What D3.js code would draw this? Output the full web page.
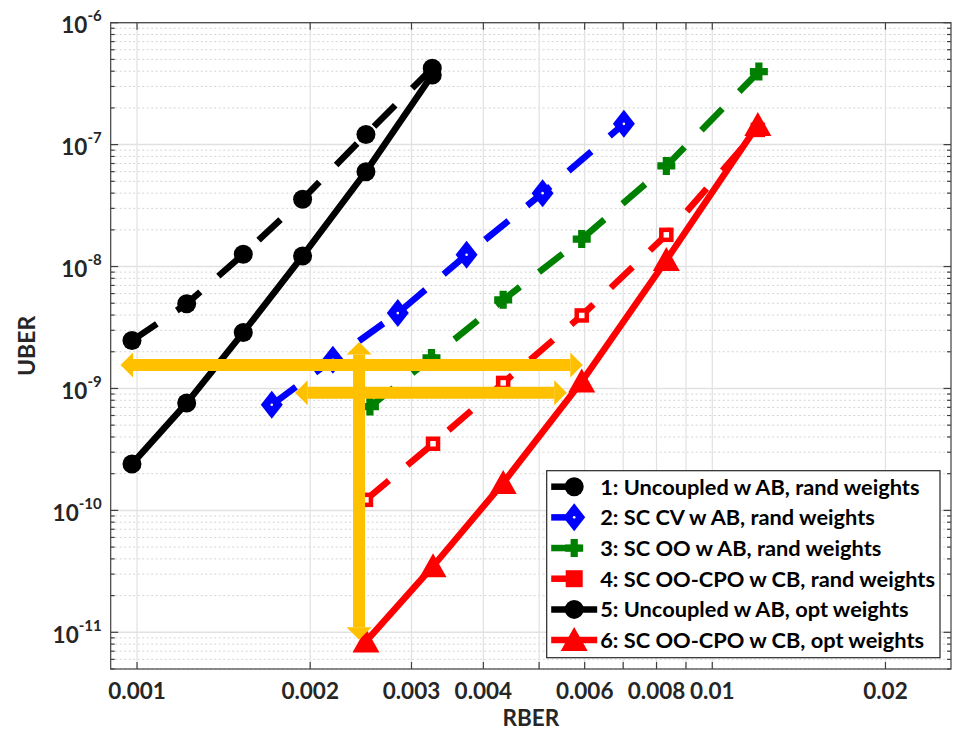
<!DOCTYPE html>
<html>
<head>
<meta charset="utf-8">
<script src="https://cdn.jsdelivr.net/npm/d3@7"></script>
<style>
  body { margin: 0; background: #fff; }
  text { font-family: Lato, "Open Sans", sans-serif; font-weight: bold; fill: #262626; }
</style>
</head>
<body>
<div id="chart"></div>
<script>
// ---------------------------//
//           DATA             //
// ---------------------------//

// RBER values (x) for each curve
const rberUncoupled = [0.00098, 0.00122, 0.00153, 0.00194, 0.0025, 0.00326];
const rberCV        = [0.001715, 0.00219, 0.00284, 0.00374, 0.00507, 0.00702];
const rberOO        = [0.00254, 0.00325, 0.00433, 0.00593, 0.00832, 0.01205];
const rberCPO       = [0.0025, 0.00327, 0.00433, 0.00593, 0.00832, 0.012];

// UBER values (y)
const uber1 = [2.47e-9, 4.95e-9, 1.26e-8, 3.57e-8, 1.21e-7, 4.23e-7];
const uber2 = [7.35e-10, 1.72e-9, 4.15e-9, 1.25e-8, 4.0e-8, 1.48e-7];
const uber3 = [7.1e-10, 1.78e-9, 5.33e-9, 1.68e-8, 6.69e-8, 3.97e-7];
const uber4 = [1.22e-10, 3.52e-10, 1.11e-9, 3.97e-9, 1.82e-8, 1.32e-7];
const uber5 = [2.40e-10, 7.6e-10, 2.88e-9, 1.22e-8, 6.0e-8, 3.73e-7];
const uber6 = [8.4e-12, 3.48e-11, 1.68e-10, 1.14e-9, 1.13e-8, 1.45e-7];

const seriesNames = [
    "1: Uncoupled w AB, rand weights",
    "2: SC CV w AB, rand weights",
    "3: SC OO w AB, rand weights",
    "4: SC OO-CPO w CB, rand weights",
    "5: Uncoupled w AB, opt weights",
    "6: SC OO-CPO w CB, opt weights"
];

// axis ticks
const xTicks      = [0.001, 0.002, 0.003, 0.004, 0.005, 0.006, 0.007, 0.008, 0.009, 0.01, 0.02];
const xTickLabels = ["0.001", "0.002", "0.003", "0.004", "", "0.006", "", "0.008", "", "0.01", "0.02"];
const yDecades    = [1e-11, 1e-10, 1e-9, 1e-8, 1e-7, 1e-6];
const yExponents  = ["-11", "-10", "-9", "-8", "-7", "-6"];

// yellow double arrows [rber1, uber1, rber2, uber2]
const arrowUpper    = [0.000936, 1.56e-9, 0.005955, 1.56e-9];
const arrowLower    = [0.001883, 9.2e-10, 0.005585, 9.2e-10];
const arrowVertical = [0.002432, 2.41e-9, 0.002432, 8.7e-12];

// ---------------------------//
//       SET  CANVAS          //
// ---------------------------//
const W = 955, H = 734;
const margin = {top: 22.7, right: 4, bottom: 65, left: 110.7},
    width = W - margin.left - margin.right,
    height = H - margin.top - margin.bottom;

const svg = d3.select("#chart")
    .append("svg")
    .attr("width", W)
    .attr("height", H)
    .append("g")
    .attr("transform", `translate(${margin.left},${margin.top})`);

// ---------------------------//
//       AXIS  AND SCALE      //
// ---------------------------//
const x = d3.scaleLog().domain([0.0009, 0.026]).range([0, width]);
const y = d3.scaleLog().domain([5e-12, 1e-6]).range([height, 0]);

// minor y values 2..9 per decade inside the domain
const yMinor = [];
[1e-12, 1e-11, 1e-10, 1e-9, 1e-8, 1e-7].forEach(d => {
    for (let k = 2; k <= 9; k++) {
        const v = d * k;
        if (v >= 5e-12 && v < 1e-6) yMinor.push(v);
    }
});

// grid
const grid = svg.append("g");
grid.selectAll(".ymin").data(yMinor).enter().append("line")
    .attr("x1", 0).attr("x2", width)
    .attr("y1", d => y(d)).attr("y2", d => y(d))
    .attr("stroke", "#d4d4d4").attr("stroke-width", 1)
    .attr("stroke-dasharray", "2,2.5");
grid.selectAll(".xg").data(xTicks).enter().append("line")
    .attr("x1", d => x(d)).attr("x2", d => x(d))
    .attr("y1", 0).attr("y2", height)
    .attr("stroke", "#e1e1e1").attr("stroke-width", 1.2);
grid.selectAll(".yg").data(yDecades).enter().append("line")
    .attr("x1", 0).attr("x2", width)
    .attr("y1", d => y(d)).attr("y2", d => y(d))
    .attr("stroke", "#e1e1e1").attr("stroke-width", 1.5);

// box + ticks
const axisColor = "#404040";
svg.append("rect")
    .attr("width", width).attr("height", height)
    .attr("fill", "none").attr("stroke", axisColor).attr("stroke-width", 1.2);

const ticks = svg.append("g").attr("stroke", axisColor).attr("stroke-width", 1.2);
xTicks.forEach(v => {
    ticks.append("line").attr("x1", x(v)).attr("x2", x(v)).attr("y1", height).attr("y2", height - 7);
    ticks.append("line").attr("x1", x(v)).attr("x2", x(v)).attr("y1", 0).attr("y2", 7);
});
yDecades.forEach(v => {
    ticks.append("line").attr("x1", 0).attr("x2", 7.5).attr("y1", y(v)).attr("y2", y(v));
    ticks.append("line").attr("x1", width).attr("x2", width - 7.5).attr("y1", y(v)).attr("y2", y(v));
});
yMinor.forEach(v => {
    ticks.append("line").attr("x1", 0).attr("x2", 4).attr("y1", y(v)).attr("y2", y(v));
    ticks.append("line").attr("x1", width).attr("x2", width - 4).attr("y1", y(v)).attr("y2", y(v));
});

// x tick labels
svg.selectAll(".xlab").data(xTicks).enter().append("text")
    .attr("x", d => x(d))
    .attr("y", height + 30)
    .attr("text-anchor", "middle")
    .style("font-size", "22.5px")
    .text((d, i) => xTickLabels[i]);

// y tick labels 10^n
yDecades.forEach((v, i) => {
    const t = svg.append("text")
        .attr("x", -9)
        .attr("y", y(v) + 10.5)
        .attr("text-anchor", "end")
        .style("font-size", "22.5px");
    t.append("tspan").text("10");
    t.append("tspan").attr("dy", -12).style("font-size", "15px").text(yExponents[i]);
});

// axis titles
svg.append("text")
    .attr("x", width / 2)
    .attr("y", height + 57.5)
    .attr("text-anchor", "middle")
    .style("font-size", "22.5px")
    .text("RBER");

svg.append("text")
    .attr("transform", `translate(${34.5 - margin.left},${height / 2}) rotate(-90)`)
    .attr("text-anchor", "middle")
    .style("font-size", "23px")
    .text("UBER");

// ---------------------------//
//      MARKERS & LINES       //
// ---------------------------//
function drawMarker(g, type, color, cx, cy) {
    if (type === "circle") {
        g.append("circle").attr("cx", cx).attr("cy", cy).attr("r", 9.5).attr("fill", color);
    } else if (type === "diamond") {
        g.append("path").attr("d", `M${cx},${cy - 14}L${cx + 11},${cy}L${cx},${cy + 14}L${cx - 11},${cy}Z`)
            .attr("fill", color);
        g.append("circle").attr("cx", cx).attr("cy", cy).attr("r", 1.3).attr("fill", "#fff");
    } else if (type === "plus") {
        const a = 9, b = 3.6;
        g.append("path").attr("d",
            `M${cx - b},${cy - a}H${cx + b}V${cy - b}H${cx + a}V${cy + b}H${cx + b}V${cy + a}H${cx - b}V${cy + b}H${cx - a}V${cy - b}H${cx - b}Z`)
            .attr("fill", color);
    } else if (type === "square") {
        g.append("rect").attr("x", cx - 5).attr("y", cy - 5).attr("width", 10).attr("height", 10)
            .attr("fill", "#fff").attr("stroke", color).attr("stroke-width", 4.5);
    } else if (type === "squareFilled") {
        g.append("rect").attr("x", cx - 8.5).attr("y", cy - 8.5).attr("width", 17).attr("height", 17)
            .attr("fill", color);
    } else if (type === "triangle") {
        g.append("path").attr("d", `M${cx},${cy - 13}L${cx + 13.5},${cy + 11}L${cx - 13.5},${cy + 11}Z`)
            .attr("fill", color);
    }
}

const series = [
    {xs: rberUncoupled, ys: uber1, color: "#000000", dash: true,  marker: "circle",   legendMarker: "circle"},
    {xs: rberCV,        ys: uber2, color: "#0000ff", dash: true,  marker: "diamond",  legendMarker: "diamond"},
    {xs: rberOO,        ys: uber3, color: "#008000", dash: true,  marker: "plus",     legendMarker: "plus"},
    {xs: rberCPO,       ys: uber4, color: "#ff0000", dash: true,  marker: "square",   legendMarker: "squareFilled"},
    {xs: rberUncoupled, ys: uber5, color: "#000000", dash: false, marker: "circle",   legendMarker: "circle"},
    {xs: rberCPO,       ys: uber6, color: "#ff0000", dash: false, marker: "triangle", legendMarker: "triangle"}
];

const line = d3.line().x(d => x(d[0])).y(d => y(d[1]));
const lineW = 6.5;
const dashPattern = "30,24";

series.forEach(s => {
    const pts = s.xs.map((v, i) => [v, s.ys[i]]);
    const g = svg.append("g");
    g.append("path")
        .attr("d", line(pts))
        .attr("fill", "none")
        .attr("stroke", s.color)
        .attr("stroke-width", lineW)
        .attr("stroke-linejoin", "round")
        .attr("stroke-dasharray", s.dash ? dashPattern : null);
    pts.forEach(p => drawMarker(g, s.marker, s.color, x(p[0]), y(p[1])));
});

// ---------------------------//
//        ARROWS              //
// ---------------------------//
const arrowColor = "#ffc000";
function doubleArrow(a) {
    const x1 = x(a[0]), y1 = y(a[1]), x2 = x(a[2]), y2 = y(a[3]);
    const len = Math.hypot(x2 - x1, y2 - y1);
    const ux = (x2 - x1) / len, uy = (y2 - y1) / len;
    const hl = 12.5, hw = 12.5, sw = 12;
    svg.append("line")
        .attr("x1", x1 + ux * hl).attr("y1", y1 + uy * hl)
        .attr("x2", x2 - ux * hl).attr("y2", y2 - uy * hl)
        .attr("stroke", arrowColor).attr("stroke-width", sw);
    [[x1, y1, ux, uy], [x2, y2, -ux, -uy]].forEach(([tx, ty, dx, dy]) => {
        const bx = tx + dx * hl, by = ty + dy * hl;
        svg.append("path")
            .attr("d", `M${tx},${ty}L${bx - dy * hw},${by + dx * hw}L${bx + dy * hw},${by - dx * hw}Z`)
            .attr("fill", arrowColor);
    });
}
doubleArrow(arrowUpper);
doubleArrow(arrowLower);
doubleArrow(arrowVertical);

// ---------------------------//
//          LEGEND            //
// ---------------------------//
const lgX = 546.7 - margin.left, lgY = 470.7 - margin.top;
const legend = svg.append("g");
legend.append("rect")
    .attr("x", lgX).attr("y", lgY)
    .attr("width", 393.3).attr("height", 187)
    .attr("fill", "#fff").attr("stroke", "#262626").attr("stroke-width", 1.2);

series.forEach((s, i) => {
    const cy = lgY + 16 + i * 30.67;
    legend.append("line")
        .attr("x1", lgX + 4.5).attr("x2", lgX + 50.5)
        .attr("y1", cy).attr("y2", cy)
        .attr("stroke", s.color).attr("stroke-width", lineW)
        .attr("stroke-dasharray", s.dash ? dashPattern : null);
    drawMarker(legend, s.legendMarker, s.color, lgX + 27.5, cy);
    legend.append("text")
        .attr("x", lgX + 53.5)
        .attr("y", cy + 8)
        .style("font-size", "21.8px")
        .style("fill", "#000")
        .text(seriesNames[i]);
});
</script>
</body>
</html>
